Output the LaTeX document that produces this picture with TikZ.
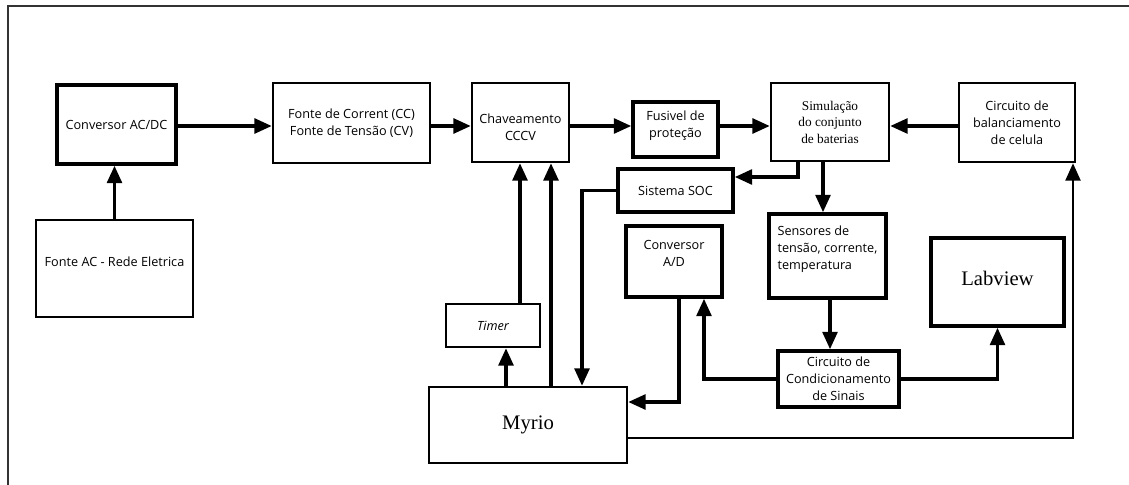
\documentclass[tikz,border=0pt]{standalone}
\usepackage{fontspec}
\setmainfont{Liberation Serif}
\setsansfont{Open Sans}
\usepackage{tikz}
\usetikzlibrary{arrows.meta}

\begin{document}
\begin{tikzpicture}[x=0.75pt, y=-0.75pt, >={Triangle[length=13pt,width=11pt]},
    blk/.style 2 args={draw, line width=1.8pt, minimum width=#1*0.75pt, minimum height=#2*0.75pt,
        inner sep=1pt, align=center, font=\sffamily\fontsize{9.5}{12.75}\selectfont},
    heavy/.style={line width=2.6pt},
    serifsmall/.style={font=\rmfamily\fontsize{10}{12.4}\selectfont},
    seriflarge/.style={font=\rmfamily\fontsize{15.5}{18}\selectfont},
    wire/.style={->, line width=2.6pt}]
    \useasboundingbox (0,0) rectangle (1129,485);
    \draw[line width=1.5pt, black!80] (8,485) -- (8,6) -- (1129,6);
    \coordinate (row) at (0,126);

    % blocks
    \node[blk={119}{79}, heavy] (conv) at (116.5,124.5) {Conversor AC/DC};
    \node[blk={157}{97}] (fonteac) at (114.5,268.5) {Fonte AC - Rede Eletrica\\[-3pt]};
    \node[blk={157}{80}] (fontecc) at (351.5,123) {Fonte de Corrent (CC)\\Fonte de Tensão (CV)};
    \node[blk={97}{79}] (chav) at (520.5,122.5) {\rule{0pt}{15pt}Chaveamento\\CCCV};
    \node[blk={85}{55}, heavy] (fus) at (675.5,129.5) {Fusivel de\\proteção\\[-4.5pt]};
    \node[blk={118}{78}, serifsmall] (sim) at (830,122) {Simulação\\do conjunto\\de baterias};
    \node[blk={116}{79}] (bal) at (1017,122.5) {Circuito de\\balanciamento\\de celula};
    \node[blk={115}{43}, heavy] (soc) at (675.5,190.5) {Sistema SOC};
    \node[blk={96}{71}, heavy] (ad) at (674,261.5) {Conversor\\A/D\\ };
    \node[blk={117}{84}, heavy, align=left] (sens) at (827.5,256) {Sensores de\\tensão, corrente,\\temperatura\\ };
    \node[blk={133}{88}, heavy, seriflarge] (lab) at (997.5,282) {Labview\\[-12pt]};
    \node[blk={94}{43}, font=\sffamily\itshape\fontsize{9.5}{12.75}\selectfont] (timer) at (493,325.5) {Timer};
    \node[blk={121}{56}, heavy] (cond) at (838.5,379) {Circuito de\\Condicionamento\\de Sinais};
    \node[blk={198}{76}, seriflarge] (myrio) at (528,425) {Myrio};

    % connectors
    \draw[wire] (fonteac.north) -- (fonteac.north |- conv.south);
    \draw[wire] (conv.east |- row) -- (fontecc.west |- row);
    \draw[wire] (fontecc.east |- row) -- (chav.west |- row);
    \draw[wire] (chav.east |- row) -- (fus.west |- row);
    \draw[wire] (fus.east |- row) -- (sim.west |- row);
    \draw[wire] (bal.west |- row) -- (sim.east |- row);
    \draw[wire] (sim.south -| 798,0) |- (soc.east |- 0,177);
    \draw[wire] (sim.south -| 823,0) -- (sens.north -| 823,0);
    \draw[wire] (sens.south -| 830,0) -- (cond.north -| 830,0);
    \draw[wire] (cond.west) -| (ad.south -| 704,0);
    \draw[wire] (cond.east) -| (lab.south);
    \draw[wire] (ad.south -| 679,0) |- (myrio.east |- 0,402);
    \draw[wire] (soc.west) -| (myrio.north -| 582,0);
    \draw[wire] (myrio.north -| 506,0) -- (timer.south -| 506,0);
    \draw[wire] (timer.north -| 520,0) -- (chav.south -| 520,0);
    \draw[wire] (myrio.north -| 551,0) -- (chav.south -| 551,0);
    \draw[wire, line width=2.2pt] (myrio.east |- 0,438) -| (bal.south -| 1073,0);
\end{tikzpicture}
\end{document}
